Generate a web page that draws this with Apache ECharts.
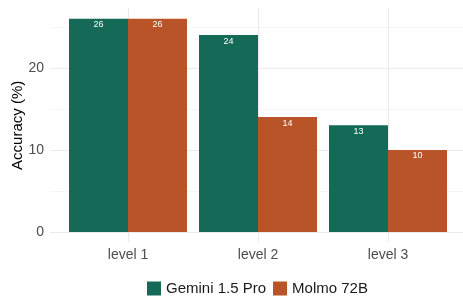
<!DOCTYPE html>
<html>
<head>
<meta charset="utf-8">
<script src="https://cdn.jsdelivr.net/npm/echarts@6/dist/echarts.min.js"></script>
<style>
  html, body { margin: 0; padding: 0; background: #fff; }
  #chart { width: 463px; height: 304px; }
</style>
</head>
<body>
<div id="chart"></div>
<script>
var levels = ['level 1', 'level 2', 'level 3'];
var gemini = [26, 24, 13];
var molmo = [26, 14, 10];
var yTicks = [0, 10, 20];
var yMinor = [5, 15, 25];

var font = 'Liberation Sans, Arial, sans-serif';
var myChart = echarts.init(document.getElementById('chart'));

function toPoints(vals) {
    return vals.map(function (v, i) { return [i + 1, v]; });
}

var barLabel = {
    show: true,
    position: 'insideTop',
    distance: 1.5,
    color: '#fff',
    fontSize: 9,
    fontFamily: font
};

option = {
    animation: false,
    textStyle: { fontFamily: font },
    grid: { left: 50, right: -3, top: 8, bottom: 61.4, outerBoundsMode: 'none', containLabel: false },
    legend: {
        bottom: 3,
        left: 142,
        itemWidth: 14,
        itemHeight: 14,
        itemGap: 7,
        icon: 'rect',
        textStyle: { fontSize: 15, color: '#1a1a1a', fontFamily: font },
        data: ['Gemini 1.5 Pro', 'Molmo 72B']
    },
    xAxis: {
        type: 'value',
        min: 0.4,
        max: 3.6,
        axisLine: { show: false },
        axisTick: { show: false, customValues: [1, 2, 3] },
        axisLabel: {
            customValues: [1, 2, 3],
            formatter: function (v) { return levels[Math.round(v) - 1]; },
            color: '#4d4d4d',
            fontSize: 14,
            margin: 6
        },
        splitLine: { show: true, lineStyle: { color: '#ebebeb', width: 1.2 } }
    },
    yAxis: [{
        type: 'value',
        min: -1.3,
        max: 27.3,
        name: 'Accuracy (%)',
        nameLocation: 'middle',
        nameGap: 25,
        nameMoveOverlap: false,
        nameTextStyle: { fontSize: 15, color: '#000' },
        axisLine: { show: false },
        axisTick: { show: false, customValues: yTicks },
        axisLabel: { customValues: yTicks, color: '#4d4d4d', fontSize: 14, margin: 6 },
        splitLine: { show: true, lineStyle: { color: '#ebebeb', width: 1.2 } }
    }, {
        type: 'value',
        min: -1.3,
        max: 27.3,
        position: 'left',
        axisLine: { show: false },
        axisTick: { show: false, customValues: yMinor },
        axisLabel: { show: false, customValues: yMinor },
        splitLine: { show: true, lineStyle: { color: '#f3f3f3', width: 0.8 } }
    }],
    series: [{
        name: 'Gemini 1.5 Pro',
        type: 'bar',
        data: toPoints(gemini),
        barWidth: 59,
        barGap: '0%',
        itemStyle: { color: '#156a57' },
        label: barLabel
    }, {
        name: 'Molmo 72B',
        type: 'bar',
        data: toPoints(molmo),
        barWidth: 59,
        barGap: '0%',
        itemStyle: { color: '#b85427' },
        label: barLabel
    }]
};
myChart.setOption(option);
</script>
</body>
</html>
